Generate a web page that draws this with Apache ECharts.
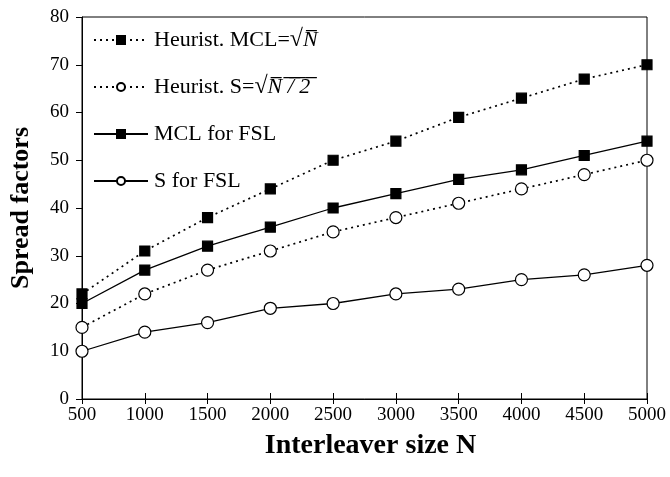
<!DOCTYPE html>
<html>
<head>
<meta charset="utf-8">
<script src="https://cdn.jsdelivr.net/npm/echarts@6/dist/echarts.min.js"></script>
<style>
  html, body { margin: 0; padding: 0; background: #fff; }
  #chart { width: 670px; height: 477px; }
</style>
</head>
<body>
<div id="chart"></div>
<script>
  'use strict';

  // data
  const sizes = [500, 1000, 1500, 2000, 2500, 3000, 3500, 4000, 4500, 5000];
  const heurMcl = [22, 31, 38, 44, 50, 54, 59, 63, 67, 70];
  const heurS = [15, 22, 27, 31, 35, 38, 41, 44, 47, 50];
  const mclFsl = [20, 27, 32, 36, 40, 43, 46, 48, 51, 54];
  const sFsl = [10, 14, 16, 19, 20, 22, 23, 25, 26, 28];

  const names = ['Heurist. MCL', 'Heurist. S', 'MCL for FSL', 'S for FSL'];

  const font = '"Liberation Serif", "Times New Roman", serif';
  const pairs = arr => sizes.map((n, i) => [n, arr[i]]);

  function line(name, data, dotted, filled) {
    return {
      name: name,
      type: 'line',
      data: pairs(data),
      symbol: filled ? 'rect' : 'circle',
      symbolSize: filled ? 10 : 12,
      showAllSymbol: true,
      lineStyle: { color: '#000', width: dotted ? 1.7 : 1.3, type: dotted ? [2, 4] : 'solid' },
      itemStyle: { color: filled ? '#000' : '#fff', borderColor: '#000', borderWidth: 1.2 },
      emphasis: { disabled: true },
      z: filled ? 3 : 4
    };
  }

  const chart = echarts.init(document.getElementById('chart'), null, { renderer: 'canvas' });

  const xBase = {
    type: 'value', min: 500, max: 5000, interval: 500,
    splitLine: { show: false }
  };

  chart.setOption({
    animation: false,
    backgroundColor: '#fff',
    grid: {
      left: 82, right: 23, top: 17, bottom: 78,
      show: true, borderColor: '#000', borderWidth: 1
    },
    legend: {
      orient: 'vertical',
      left: 88, top: 23,
      itemWidth: 54, itemHeight: 10, itemGap: 23,
      data: names,
      textStyle: {
        fontFamily: font, fontSize: 22, lineHeight: 24, color: '#000', padding: [0, 0, 0, 1],
        rich: {
          it: { fontFamily: font, fontSize: 22, lineHeight: 24, fontStyle: 'italic', color: '#000' },
          rt: { fontFamily: font, fontSize: 24, lineHeight: 24, color: '#000' }
        }
      },
      formatter: function (n) {
        if (n === 'Heurist. MCL') return 'Heurist. MCL={rt|√}{it|N̅}';
        if (n === 'Heurist. S') return 'Heurist. S={rt|√}{it|N̅ ̅/̅ ̅2̅}';
        return n;
      }
    },
    xAxis: [
      Object.assign({}, xBase, {
        name: 'Interleaver size N',
        nameLocation: 'middle', nameGap: 33,
        nameTextStyle: { fontFamily: font, fontSize: 28, fontWeight: 'bold', color: '#000', padding: [0, 0, 0, 12] },
        axisLine: { lineStyle: { color: '#000', width: 1 } },
        axisTick: { inside: true, length: 6, lineStyle: { color: '#000' } },
        axisLabel: { fontFamily: font, fontSize: 19, color: '#000', margin: 7, formatter: v => String(v) }
      }),
      Object.assign({}, xBase, {
        position: 'bottom', offset: 0,
        axisLine: { show: true, lineStyle: { color: '#000', width: 1 } },
        axisTick: { show: true, inside: false, length: 5, lineStyle: { color: '#000' } },
        axisLabel: { show: false }
      })
    ],
    yAxis: {
      type: 'value', min: 0, max: 80, interval: 10,
      splitLine: { show: false },
      name: 'Spread factors',
      nameLocation: 'middle', nameGap: 48, nameRotate: 90,
      nameTextStyle: { fontFamily: font, fontSize: 26, fontWeight: 'bold', color: '#000' },
      axisLine: { lineStyle: { color: '#000', width: 1 } },
      axisTick: { length: 6, lineStyle: { color: '#000' } },
      axisLabel: { fontFamily: font, fontSize: 19, color: '#000', margin: 13 }
    },
    series: [
      line(names[0], heurMcl, true, true),
      line(names[1], heurS, true, false),
      line(names[2], mclFsl, false, true),
      line(names[3], sFsl, false, false)
    ]
  });
</script>
</body>
</html>
